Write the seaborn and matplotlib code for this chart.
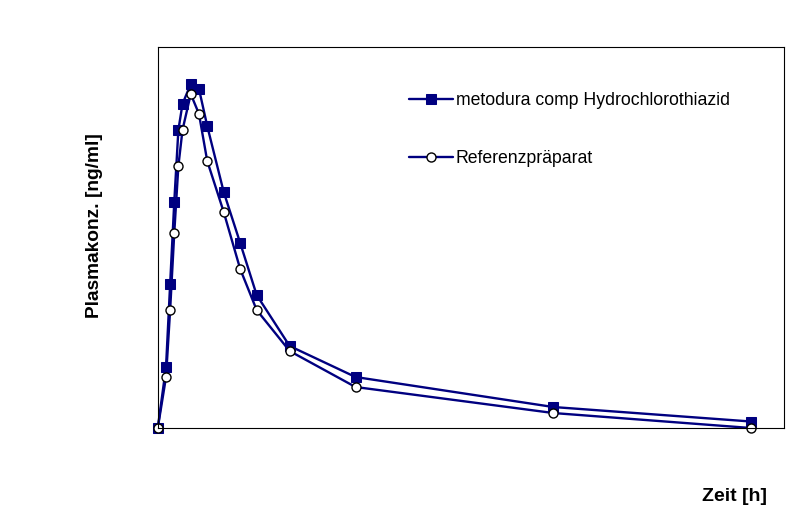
import matplotlib
matplotlib.use("Agg")
import matplotlib.pyplot as plt
import seaborn as sns
import pandas as pd
import numpy as np

sns.set_theme(style="white")
plt.rcParams["font.family"] = ["Liberation Sans", "DejaVu Sans"]
plt.rcParams["text.color"] = "black"

# Time points [h] and concentrations (arbitrary units)
zeit = [0, 0.5, 0.75, 1, 1.25, 1.5, 2, 2.5, 3, 4, 5, 6, 8, 12, 24, 36]
metodura = [0, 61, 144, 226, 298, 324, 344, 339, 302, 236, 185, 133, 82, 51, 21, 6.5]
referenz = [0, 51, 118, 195, 262, 298, 334, 314, 267, 216, 159, 118, 77, 41, 15, 0]

label_a = "metodura comp Hydrochlorothiazid"
label_b = "Referenzpräparat"

df = pd.DataFrame({"Zeit": zeit, "metodura": metodura, "referenz": referenz})

navy = "#000080"

fig = plt.figure(figsize=(8.05, 5.16), dpi=100)
ax = fig.add_axes([0.196, 0.1705, 0.778, 0.7385])

sns.lineplot(data=df, x="Zeit", y="metodura", ax=ax, color=navy, linewidth=1.7,
             marker="s", markersize=7, markerfacecolor=navy, markeredgecolor=navy,
             label=label_a, clip_on=False)
sns.lineplot(data=df, x="Zeit", y="referenz", ax=ax, color=navy, linewidth=1.7,
             marker="o", markersize=6.5, markerfacecolor="white", markeredgecolor="black",
             markeredgewidth=1.0, label=label_b, clip_on=False)

ax.set_xlim(0, 38)
ax.set_ylim(0, 381)
ax.set_xticks([])
ax.set_yticks([])
for s in ax.spines.values():
    s.set_color("black")
    s.set_linewidth(0.8)

ax.set_xlabel("")
ax.set_ylabel("")
fig.text(0.117, 0.562, "Plasmakonz. [ng/ml]", rotation=90, ha="center", va="center",
         fontsize=13.8, fontweight="bold", color="black")
fig.text(0.912, 0.038, "Zeit [h]", ha="center", va="center",
         fontsize=14, fontweight="bold", color="black")

leg = ax.legend(loc="upper left", bbox_to_anchor=(0.39, 0.9), frameon=False,
                fontsize=12.7, handlelength=2.5, handletextpad=0.15, labelspacing=2.32,
                borderaxespad=0)
for t in leg.get_texts():
    t.set_color("black")

fig.savefig("out.png", dpi=100)
